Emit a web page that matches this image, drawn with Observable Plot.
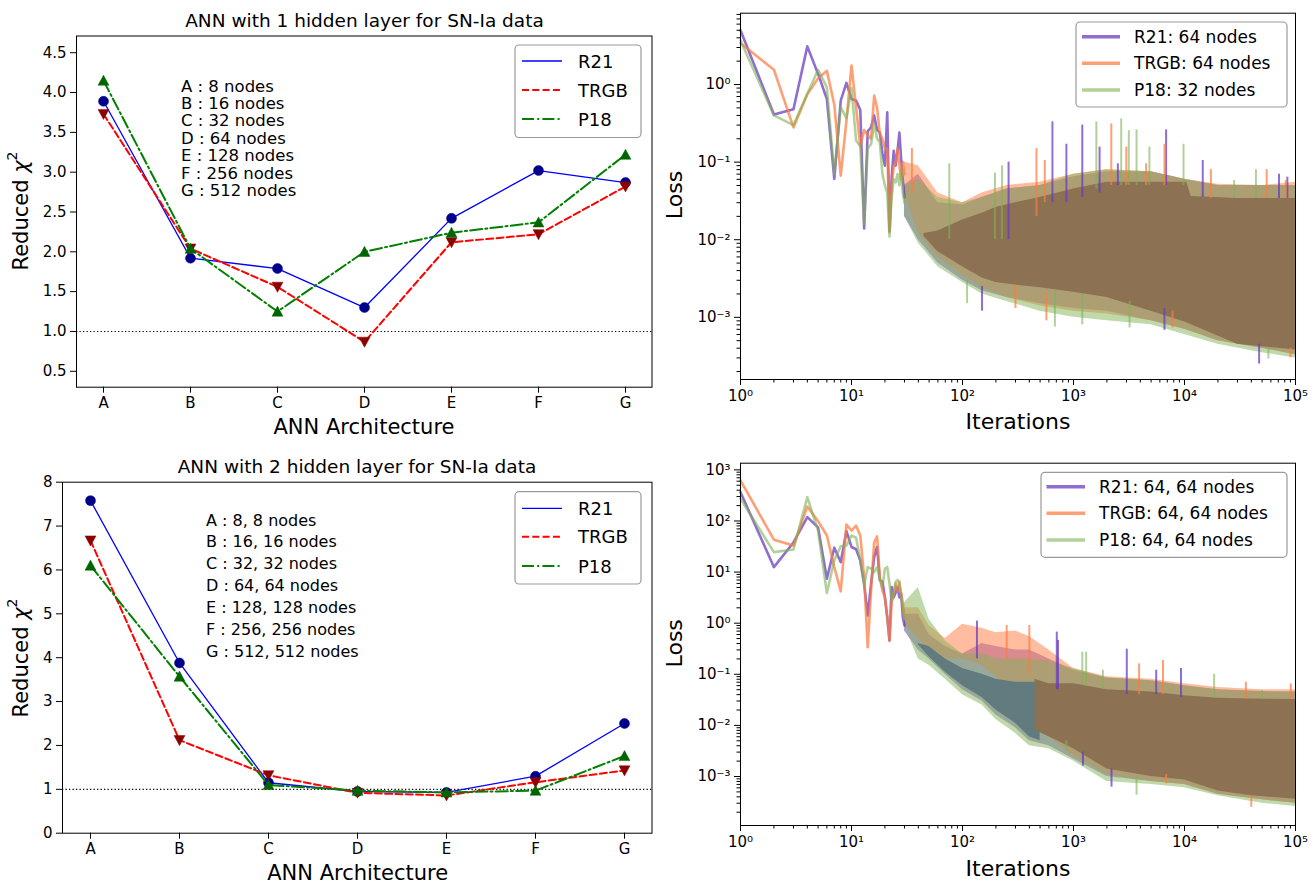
<!DOCTYPE html>
<html>
<head>
<meta charset="utf-8">
<script src="https://cdn.jsdelivr.net/npm/d3@7"></script>
<script src="https://cdn.jsdelivr.net/npm/@observablehq/plot@0.6"></script>
<style>
html,body{margin:0;padding:0;background:#fff;}
#root{position:relative;width:1315px;height:885px;overflow:hidden;background:#fff;font-family:"DejaVu Sans",sans-serif;}
#root > svg{position:absolute;}
</style>
</head>
<body>
<div id="root"></div>
<script>
// ================= DATA =================
// --- reduced chi^2 panels ---
const archs = ["A", "B", "C", "D", "E", "F", "G"];
const seriesNames = ["R21", "TRGB", "P18"];

const l1_R21  = [3.89, 1.92, 1.79, 1.30, 2.42, 3.02, 2.87];
const l1_TRGB = [3.73, 2.04, 1.56, 0.87, 2.12, 2.22, 2.82];
const l1_P18  = [4.15, 2.04, 1.25, 2.00, 2.24, 2.37, 3.22];

const l2_R21  = [7.58, 3.88, 1.15, 0.95, 0.93, 1.30, 2.50];
const l2_TRGB = [6.67, 2.12, 1.32, 0.92, 0.86, 1.16, 1.43];
const l2_P18  = [6.10, 3.57, 1.10, 0.97, 0.93, 0.97, 1.76];

const l1Ticks = [0.5, 1.0, 1.5, 2.0, 2.5, 3.0, 3.5, 4.0, 4.5];
const l2Ticks = [0, 1, 2, 3, 4, 5, 6, 7, 8];

const l1Notes = ["A : 8 nodes", "B : 16 nodes", "C : 32 nodes", "D : 64 nodes",
                 "E : 128 nodes", "F : 256 nodes", "G : 512 nodes"];
const l2Notes = ["A : 8, 8 nodes", "B : 16, 16 nodes", "C : 32, 32 nodes", "D : 64, 64 nodes",
                 "E : 128, 128 nodes", "F : 256, 256 nodes", "G : 512, 512 nodes"];

const title1 = "ANN with 1 hidden layer for SN-Ia data";
const title2 = "ANN with 2 hidden layer for SN-Ia data";

// --- loss panels ---
const lossLegendTop = ["R21: 64 nodes", "TRGB: 64 nodes", "P18: 32 nodes"];
const lossLegendBot = ["R21: 64, 64 nodes", "TRGB: 64, 64 nodes", "P18: 64, 64 nodes"];
const logXTicks = [1, 10, 100, 1000, 10000, 100000];
const logYTicksTop = [0.001, 0.01, 0.1, 1];
const logYTicksBot = [0.001, 0.01, 0.1, 1, 10, 100, 1000];

const lossIterEarly = [1,2,3,4,5,6,7,8,9,10,11,12,13,14,15,16,17,18,19,20,21,22,23,24,25,26,27,28,29,30];

// top-right: early iterations
const topR21  = [5.0,0.41,0.48,3.1,1.37,0.65,0.061,0.62,1.05,0.65,0.62,0.47,0.014,0.25,0.28,0.40,0.26,0.24,0.13,0.09,0.44,0.013,0.064,0.14,0.09,0.14,0.24,0.11,0.058,0.035];
const topTRGB = [3.4,1.55,0.28,0.75,1.2,1.5,0.55,0.067,0.34,1.76,0.5,0.16,0.26,0.22,0.2,0.72,0.5,0.23,0.2,0.15,0.15,0.0125,0.05,0.087,0.1,0.15,0.09,0.06,0.1,0.07];
const topP18  = [3.7,0.40,0.30,0.76,1.55,0.92,0.07,0.51,0.37,0.9,0.19,0.16,0.016,0.15,0.17,0.31,0.2,0.18,0.07,0.05,0.04,0.011,0.035,0.06,0.055,0.07,0.05,0.08,0.04,0.03];

// top-right: noisy envelope per series
const topBandIt  = [30, 40, 60, 100, 150, 250, 500, 1000, 2000, 5000, 10000, 20000, 50000, 100000];
const topR21Hi   = [0.05, 0.07, 0.03, 0.028, 0.035, 0.045, 0.05, 0.065, 0.075, 0.075, 0.06, 0.05, 0.05, 0.05];
const topR21Lo   = [0.02, 0.01, 0.005, 0.003, 0.0022, 0.0018, 0.0015, 0.0013, 0.0012, 0.0009, 0.0007, 0.0005, 0.0004, 0.00033];
const topTRGBHi  = [0.1, 0.09, 0.04, 0.03, 0.04, 0.05, 0.055, 0.07, 0.08, 0.075, 0.06, 0.052, 0.05, 0.055];
const topTRGBLo  = [0.04, 0.012, 0.006, 0.0035, 0.0024, 0.0018, 0.0014, 0.0012, 0.0011, 0.0009, 0.0007, 0.0005, 0.0004, 0.00033];
const topP18Hi   = [0.05, 0.06, 0.035, 0.03, 0.035, 0.045, 0.05, 0.07, 0.08, 0.075, 0.06, 0.05, 0.05, 0.05];
const topP18Lo   = [0.02, 0.009, 0.0045, 0.0028, 0.002, 0.0016, 0.0012, 0.001, 0.0009, 0.0008, 0.0006, 0.00045, 0.00035, 0.0003];
// top-right: dense overlapping core
const topCoreIt  = [45, 60, 100, 150, 200, 300, 500, 1000, 2000, 5000, 10500, 11500, 30000, 100000];
const topCoreHi  = [0.012, 0.013, 0.018, 0.022, 0.026, 0.03, 0.035, 0.045, 0.055, 0.055, 0.055, 0.036, 0.034, 0.034];
const topCoreLo  = [0.011, 0.007, 0.0045, 0.0032, 0.0028, 0.0026, 0.0024, 0.0021, 0.0018, 0.0012, 0.00085, 0.0008, 0.00045, 0.00038];
// top-right: isolated spikes [iteration, low, high]
const topR21Spikes  = [[260,0.01,0.1],[646,0.03,0.33],[863,0.03,0.17],[1200,0.035,0.30],[1718,0.04,0.156],[2510,0.05,0.095],[6830,0.05,0.26],[14600,0.035,0.105],[71000,0.034,0.07],[84500,0.034,0.064],[6600,0.00068,0.0013],[47000,0.00025,0.00045],[150,0.0012,0.0025]];
const topTRGBSpikes = [[35,0.04,0.15],[464,0.02,0.15],[551,0.03,0.105],[2190,0.05,0.31],[2990,0.05,0.156],[4510,0.05,0.095],[6600,0.05,0.17],[17300,0.034,0.08],[55000,0.034,0.08],[81700,0.034,0.058],[570,0.0009,0.002],[7800,0.00073,0.0012],[90000,0.0003,0.0004],[300,0.0013,0.0026]];
const topP18Spikes  = [[76,0.01,0.095],[196,0.01,0.072],[227,0.01,0.09],[1607,0.045,0.33],[2690,0.05,0.36],[3150,0.05,0.255],[3700,0.05,0.26],[4830,0.05,0.156],[9800,0.05,0.17],[28000,0.034,0.058],[44000,0.034,0.08],[680,0.00075,0.0022],[1200,0.0008,0.002],[3200,0.00073,0.0016],[57000,0.00029,0.0004],[110,0.0015,0.003]];

// bottom-right: early iterations
const botR21  = [366,12.5,38,119,75,7.4,30,15.6,63,31,28,16.9,5.9,1.4,5.9,19.6,31,6.9,6.5,3.2,1.3,0.46,5.1,3.2,4.0,5.1,3.2,3.8,1.3,0.9];
const botTRGB = [620,43,33,192,99,52,12.5,4.2,85,65,81,52,7.9,0.34,4.3,38,50,7.9,4.3,3.2,1.3,0.45,2.5,3.8,5.9,4.3,6.5,3.8,2.5,1.3];
const botP18  = [272,24.6,27.7,292,65,3.9,17,32,33,52,47,17,5.5,12.5,11.7,10,12.5,7.4,5.1,11.7,12.5,5.9,2.7,3.8,6.5,7,5.9,3.2,2.1,1.2];

// bottom-right: noisy envelope per series
const botBandIt = [30, 40, 50, 70, 100, 150, 200, 300, 400, 600, 1000, 2000, 5000, 10000, 20000, 50000, 100000];
const botR21Hi  = [1.5, 1.5, 0.6, 0.35, 0.25, 0.4, 0.35, 0.3, 0.3, 0.2, 0.12, 0.085, 0.075, 0.06, 0.05, 0.046, 0.045];
const botR21Lo  = [0.7, 0.3, 0.2, 0.1, 0.05, 0.03, 0.016, 0.009, 0.005, 0.004, 0.0022, 0.001, 0.0008, 0.0007, 0.00045, 0.00035, 0.0003];
const botTRGBHi = [2.0, 2.0, 0.9, 0.5, 0.95, 0.8, 0.65, 0.7, 0.55, 0.3, 0.13, 0.09, 0.08, 0.065, 0.055, 0.05, 0.05];
const botTRGBLo = [1.0, 0.5, 0.3, 0.2, 0.2, 0.15, 0.09, 0.04, 0.015, 0.006, 0.0025, 0.0011, 0.0008, 0.0007, 0.00045, 0.00035, 0.0003];
const botP18Hi  = [2.5, 5.0, 1.2, 0.45, 0.25, 0.25, 0.2, 0.2, 0.2, 0.18, 0.13, 0.085, 0.075, 0.06, 0.05, 0.046, 0.045];
const botP18Lo  = [0.9, 0.2, 0.15, 0.08, 0.04, 0.025, 0.013, 0.007, 0.004, 0.0035, 0.002, 0.0008, 0.0007, 0.0006, 0.00042, 0.0003, 0.00026];
// bottom-right: dense cores (R21+P18 overlap, then all three)
const botTealIt  = [40, 50, 70, 100, 150, 200, 300, 400, 500];
const botTealHi  = [0.4, 0.35, 0.2, 0.13, 0.1, 0.08, 0.07, 0.07, 0.07];
const botTealLo  = [0.38, 0.22, 0.11, 0.06, 0.035, 0.02, 0.011, 0.006, 0.005];
const botCoreIt  = [450, 600, 1000, 2000, 5000, 10000, 20000, 40000, 100000];
const botCoreHi  = [0.08, 0.065, 0.065, 0.05, 0.045, 0.038, 0.034, 0.033, 0.032];
const botCoreLo  = [0.008, 0.006, 0.0035, 0.0014, 0.001, 0.00085, 0.00052, 0.00042, 0.00036];
// bottom-right: isolated spikes
const botR21Spikes  = [[135,0.2,1.1],[707,0.05,0.67],[725,0.05,0.46],[3020,0.04,0.31],[5560,0.04,0.12],[9300,0.035,0.13],[1217,0.0016,0.003],[2200,0.00062,0.0014]];
const botTRGBSpikes = [[250,0.2,0.9],[400,0.1,0.9],[3900,0.04,0.16],[6400,0.04,0.186],[35700,0.033,0.07],[90600,0.032,0.065],[6830,0.00072,0.0011],[40000,0.00025,0.0004]];
const botP18Spikes  = [[1200,0.06,0.27],[1300,0.06,0.27],[1840,0.05,0.12],[18500,0.034,0.1],[50000,0.033,0.048],[863,0.0032,0.005],[3700,0.00043,0.001]];

// ================= STYLE =================
const FONT = '"DejaVu Sans", Verdana, sans-serif';
const root = document.getElementById("root");
const lineStyles = {
  R21:  {stroke: "#0000ff", width: 1.3, dash: null, marker: "#00008b", symbol: "circle"},
  TRGB: {stroke: "#ff0000", width: 2,   dash: "7,3.3", marker: "#8b0000", symbol: "down"},
  P18:  {stroke: "#008000", width: 2,   dash: "12,3.2,2,3.2", marker: "#006400", symbol: "up"}
};
const lossColors = {
  R21:  {c: "#6a3cc2", op: 0.75},
  TRGB: {c: "#ff7a40", op: 0.72},
  P18:  {c: "#7fb356", op: 0.6}
};

const triUp = {draw(ctx, size) { const h = Math.sqrt(size) * 0.64; ctx.moveTo(0, -h); ctx.lineTo(h, h * 0.85); ctx.lineTo(-h, h * 0.85); ctx.closePath(); }};
const triDown = {draw(ctx, size) { const h = Math.sqrt(size) * 0.64; ctx.moveTo(0, h); ctx.lineTo(h, -h * 0.85); ctx.lineTo(-h, -h * 0.85); ctx.closePath(); }};

function placeSvg(svg, left, top) {
  svg.style.position = "absolute";
  svg.style.left = left + "px";
  svg.style.top = top + "px";
  root.appendChild(svg);
}

// ================= CHI^2 PANELS =================
function chiPanel(cfg) {
  const rows = (arr) => archs.map((a, i) => ({arch: a, v: arr[i]}));
  const marks = [Plot.ruleY([1], {stroke: "#000", strokeWidth: 1.1, strokeDasharray: "1.3,2.2"})];
  seriesNames.forEach((name, k) => {
    const st = lineStyles[name];
    const d = rows(cfg.values[k]);
    marks.push(Plot.line(d, {x: "arch", y: "v", stroke: st.stroke, strokeWidth: st.width, strokeDasharray: st.dash}));
    const sym = st.symbol === "circle" ? "circle" : (st.symbol === "up" ? triUp : triDown);
    marks.push(Plot.dot(d, {x: "arch", y: "v", r: st.symbol === "circle" ? 5 : 4.8, fill: st.marker, stroke: st.marker, strokeWidth: 0.5, symbol: sym}));
  });
  marks.push(Plot.frame({stroke: "#000", strokeWidth: 1}));
  marks.push(Plot.axisX({tickSize: 6, tickPadding: 4, label: null}));
  marks.push(Plot.axisY({ticks: cfg.ticks, tickFormat: cfg.fmt, tickSize: 6, tickPadding: 4, label: null}));
  const svg = Plot.plot({
    width: cfg.width, height: cfg.height,
    marginLeft: cfg.mL, marginRight: cfg.mR, marginTop: cfg.mT, marginBottom: cfg.mB,
    style: {fontFamily: FONT, fontSize: "15px", color: "#000", background: "transparent", overflow: "visible"},
    x: {type: "point", domain: archs, padding: 0.3},
    y: {domain: cfg.yDomain},
    marks
  });
  placeSvg(svg, cfg.left, cfg.top);
}

chiPanel({left: 0, top: 0, width: 660, height: 440, mL: 76, mR: 8.5, mT: 35.5, mB: 53.3,
  yDomain: [0.30, 4.71], ticks: l1Ticks, fmt: d3.format(".1f"), values: [l1_R21, l1_TRGB, l1_P18]});
chiPanel({left: 0, top: 440, width: 660, height: 445, mL: 62, mR: 8.5, mT: 41.7, mB: 52.3,
  yDomain: [0, 8], ticks: l2Ticks, fmt: d3.format("d"), values: [l2_R21, l2_TRGB, l2_P18]});

// ================= LOSS PANELS =================
const supMap = {"-": "\u207B", "0": "\u2070", "1": "\u00B9", "2": "\u00B2", "3": "\u00B3", "4": "\u2074", "5": "\u2075"};
const powFmt = (d) => "10" + String(Math.round(Math.log10(d))).split("").map(c => supMap[c]).join("");
function minorTicks(lo, hi) {
  const out = [];
  for (let e = Math.floor(Math.log10(lo)); e <= Math.ceil(Math.log10(hi)); e++)
    for (let m = 2; m <= 9; m++) { const v = m * Math.pow(10, e); if (v >= lo && v <= hi) out.push(v); }
  return out;
}

function lossPanel(cfg) {
  const early = (vals) => lossIterEarly.map((it, i) => ({it, v: vals[i]}));
  const band = (its, lo, hi) => its.map((it, i) => ({it, lo: lo[i], hi: hi[i]}));
  const spk = (arr) => arr.map(([it, lo, hi]) => ({it, lo, hi}));
  const marks = [];
  cfg.series.forEach(s => {
    const col = lossColors[s.name];
    marks.push(Plot.areaY(band(cfg.bandIt, s.lo, s.hi), {x: "it", y1: "lo", y2: "hi", fill: col.c, fillOpacity: 0.5}));
  });
  cfg.cores.forEach(c => {
    marks.push(Plot.areaY(band(c.it, c.lo, c.hi), {x: "it", y1: "lo", y2: "hi", fill: c.color, fillOpacity: 0.97}));
  });
  cfg.series.forEach(s => {
    const col = lossColors[s.name];
    marks.push(Plot.ruleX(spk(s.spikes), {x: "it", y1: "lo", y2: "hi", stroke: col.c, strokeOpacity: col.op, strokeWidth: 2}));
  });
  cfg.series.forEach(s => {
    const col = lossColors[s.name];
    marks.push(Plot.line(early(s.early), {x: "it", y: "v", stroke: col.c, strokeOpacity: col.op, strokeWidth: 2.6}));
  });
  marks.push(Plot.frame({stroke: "#000", strokeWidth: 1}));
  marks.push(Plot.axisX({ticks: minorTicks(1, 100000), tickFormat: () => "", tickSize: 3.5, label: null}));
  marks.push(Plot.axisX({ticks: logXTicks, tickFormat: powFmt, tickSize: 6, tickPadding: 5, label: null}));
  marks.push(Plot.axisY({ticks: minorTicks(cfg.yDomain[0], cfg.yDomain[1]), tickFormat: () => "", tickSize: 3.5, label: null}));
  marks.push(Plot.axisY({ticks: cfg.yTicks, tickFormat: powFmt, tickSize: 6, tickPadding: 4, label: null}));
  const svg = Plot.plot({
    width: cfg.width, height: cfg.height,
    marginLeft: cfg.mL, marginRight: cfg.mR, marginTop: cfg.mT, marginBottom: cfg.mB,
    style: {fontFamily: FONT, fontSize: "15px", color: "#000", background: "transparent", overflow: "visible"},
    x: {type: "log", domain: [1, 100000]},
    y: {type: "log", domain: cfg.yDomain},
    marks
  });
  placeSvg(svg, cfg.left, cfg.top);
}

lossPanel({left: 660, top: 0, width: 655, height: 440, mL: 80, mR: 20, mT: 12.7, mB: 61,
  yDomain: [1.58e-4, 8.3], yTicks: logYTicksTop, bandIt: topBandIt,
  series: [
    {name: "R21", early: topR21, hi: topR21Hi, lo: topR21Lo, spikes: topR21Spikes},
    {name: "TRGB", early: topTRGB, hi: topTRGBHi, lo: topTRGBLo, spikes: topTRGBSpikes},
    {name: "P18", early: topP18, hi: topP18Hi, lo: topP18Lo, spikes: topP18Spikes}
  ],
  cores: [{it: topCoreIt, hi: topCoreHi, lo: topCoreLo, color: "#8a7152"}]
});
lossPanel({left: 660, top: 440, width: 655, height: 445, mL: 80, mR: 20, mT: 22.7, mB: 60,
  yDomain: [1.1e-4, 1350], yTicks: logYTicksBot, bandIt: botBandIt,
  series: [
    {name: "R21", early: botR21, hi: botR21Hi, lo: botR21Lo, spikes: botR21Spikes},
    {name: "TRGB", early: botTRGB, hi: botTRGBHi, lo: botTRGBLo, spikes: botTRGBSpikes},
    {name: "P18", early: botP18, hi: botP18Hi, lo: botP18Lo, spikes: botP18Spikes}
  ],
  cores: [
    {it: botTealIt, hi: botTealHi, lo: botTealLo, color: "#5f7a7e"},
    {it: botCoreIt, hi: botCoreHi, lo: botCoreLo, color: "#8a7152"}
  ]
});

// ================= TEXT, ANNOTATIONS, LEGENDS =================
const ov = d3.select(root).append("svg")
  .attr("width", 1315).attr("height", 885)
  .style("position", "absolute").style("left", "0px").style("top", "0px")
  .style("font-family", FONT).style("pointer-events", "none");

function ctext(x, y, str, size) {
  return ov.append("text").attr("x", x).attr("y", y).attr("text-anchor", "middle")
    .attr("dominant-baseline", "central").attr("font-size", size).attr("fill", "#000").text(str);
}
function chiLabel(x, y) {
  const t = ov.append("text").attr("transform", `translate(${x},${y}) rotate(-90)`)
    .attr("text-anchor", "middle").attr("dominant-baseline", "central").attr("font-size", 21).attr("fill", "#000");
  t.append("tspan").text("Reduced ");
  t.append("tspan").attr("font-style", "italic").text("\u03C7");
  t.append("tspan").attr("font-size", 14).attr("dy", -9).text("2");
}
function rotLabel(x, y, str, size) {
  ov.append("text").attr("transform", `translate(${x},${y}) rotate(-90)`)
    .attr("text-anchor", "middle").attr("dominant-baseline", "central").attr("font-size", size).attr("fill", "#000").text(str);
}

ctext(364.5, 20, title1, 18.5);
ctext(364, 426.7, "ANN Architecture", 21);
chiLabel(21, 211);
ctext(357, 466.7, title2, 18.5);
ctext(357.7, 873.3, "ANN Architecture", 21);
chiLabel(21, 658);
rotLabel(674.7, 195, "Loss", 22);
ctext(1018, 421.7, "Iterations", 22);
rotLabel(674.7, 643.3, "Loss", 22);
ctext(1018, 868.3, "Iterations", 22);

l1Notes.forEach((s, i) => ov.append("text").attr("x", 181).attr("y", 86 + i * 17.4)
  .attr("dominant-baseline", "central").attr("font-size", 16.5).attr("fill", "#000").text(s));
l2Notes.forEach((s, i) => ov.append("text").attr("x", 206).attr("y", 520 + i * 21.9)
  .attr("dominant-baseline", "central").attr("font-size", 16).attr("fill", "#000").text(s));

function legend(box, ys, lx0, lx1, tx, labels, fontSize, styler) {
  ov.append("rect").attr("x", box[0]).attr("y", box[1]).attr("width", box[2] - box[0]).attr("height", box[3] - box[1])
    .attr("rx", 4).attr("fill", "#fff").attr("fill-opacity", 0.85).attr("stroke", "#9a9a9a").attr("stroke-width", 1.2);
  labels.forEach((lab, i) => {
    const ln = ov.append("line").attr("x1", lx0).attr("x2", lx1).attr("y1", ys[i]).attr("y2", ys[i]);
    styler(ln, seriesNames[i]);
    ov.append("text").attr("x", tx).attr("y", ys[i]).attr("dominant-baseline", "central")
      .attr("font-size", fontSize).attr("fill", "#000").text(lab);
  });
}
const chiStyler = (ln, name) => {
  const st = lineStyles[name];
  ln.attr("stroke", st.stroke).attr("stroke-width", st.width).attr("stroke-dasharray", st.dash);
};
const lossStyler = (ln, name) => {
  const col = lossColors[name];
  ln.attr("stroke", col.c).attr("stroke-opacity", col.op).attr("stroke-width", 3.6);
};
legend([515, 45, 641, 137.5], [61, 90, 119], 522, 562, 578, seriesNames, 18, chiStyler);
legend([515, 491.7, 641, 584], [508.3, 536.7, 566], 522, 562, 578, seriesNames, 18, chiStyler);
legend([1076, 22, 1287, 107], [36.7, 63.3, 90], 1082, 1120, 1134, lossLegendTop, 17, lossStyler);
legend([1041, 472.3, 1287, 557.3], [486.7, 513.3, 540], 1046.5, 1085, 1099, lossLegendBot, 17, lossStyler);
</script>
</body>
</html>
